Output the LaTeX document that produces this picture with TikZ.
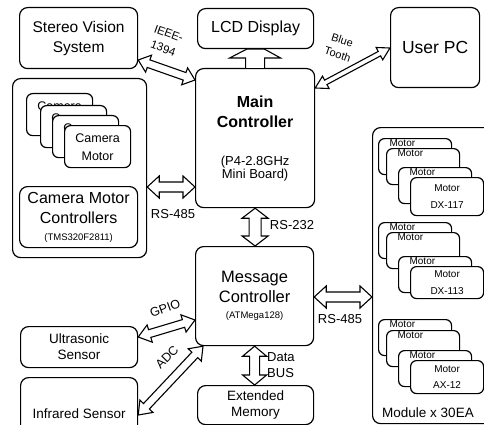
\documentclass[tikz,border=0pt]{standalone}
\usepackage{fontspec}
\setmainfont{Liberation Sans}
\usetikzlibrary{calc}
\newcommand\fsz[2]{\fontsize{#1}{#2}\selectfont}
% hollow double arrow: #1 start, #2 end, #3 shaft half width, #4 head half width, #5 head length
\newcommand\dblarrow[5]{%
  \draw[arr] ($(#1)!#5!(#2)!#4!90:(#2)$) -- (#1) -- ($(#1)!#5!(#2)!#4!-90:(#2)$)
    -- ($(#1)!#5!(#2)!#3!-90:(#2)$) -- ($(#2)!#5!(#1)!#3!90:(#1)$)
    -- ($(#2)!#5!(#1)!#4!90:(#1)$) -- (#2) -- ($(#2)!#5!(#1)!#4!-90:(#1)$)
    -- ($(#2)!#5!(#1)!#3!-90:(#1)$) -- ($(#1)!#5!(#2)!#3!90:(#2)$) -- cycle;}
\begin{document}
\begin{tikzpicture}[x=1pt,y=-1pt,
  box/.style={draw, line width=1.2pt, rounded corners=8pt, fill=white, inner sep=0pt, align=center, anchor=north west},
  card/.style={box, rounded corners=6pt},
  camcard/.style={card, minimum width=66pt, text height=34.5pt, text depth=7.5pt, font=\fsz{12.5}{18}},
  backcard/.style={card, minimum width=73pt, minimum height=36pt, text width=51pt, inner xsep=11pt, align=left, text height=8pt, text depth=28pt, font=\fsz{10}{12}},
  frontcard/.style={card, minimum width=73pt, font=\fsz{10}{17}},
  arr/.style={draw, line width=1.1pt, fill=white, line join=miter},
  lbl/.style={inner sep=0pt, align=center}]
\useasboundingbox (0,0) rectangle (484,425);
\clip (0,0) rectangle (484,425);
\fill[white] (0,0) rectangle (484,425);

% top row
\node[box, minimum width=118pt, minimum height=61pt, font=\fsz{15.5}{20}] (stereo) at (19,7) {Stereo Vision\\System};
\node[box, minimum width=116pt, minimum height=40pt, font=\fsz{16}{18}] (lcd) at (197,8) {LCD Display};
\node[box, minimum width=89pt, minimum height=80pt, font=\fsz{17.5}{20}] (upc) at (390,7) {User PC};

% main controller
\node[box, minimum width=119pt, minimum height=139pt, font=\bfseries\fsz{16}{20}] (main) at (195,68)
  {Main\\Controller\\[18pt]\mdseries\fsz{13}{13}(P4-2.8GHz\\[-7pt]\mdseries\fsz{13}{13}Mini Board)};

% camera group
\node[box, minimum width=134pt, minimum height=179pt] (cam) at (12,78) {};
\foreach \i/\x/\y in {1/26/93, 2/40/105, 3/52/115, 4/64/125}
  \node[camcard] (cm\i) at (\x,\y) {Camera\\Motor};
\node[box, minimum width=118pt, minimum height=61pt, font=\fsz{16}{20}] (cmc) at (19,186)
  {Camera Motor\\Controllers\\[-3pt]\fsz{9.5}{11}(TMS320F2811)};

% message controller and peripherals
\node[box, minimum width=118pt, minimum height=99pt, font=\fsz{16.5}{20}] (msg) at (195,246)
  {Message\\Controller\\[-4pt]\fsz{9.5}{11}(ATMega128)};
\node[box, minimum width=116pt, minimum height=39pt, font=\fsz{13.5}{16}] (ext) at (197,385) {Extended\\Memory};
\node[box, minimum width=117pt, minimum height=41pt, font=\fsz{13.5}{16}] (us) at (20,326) {Ultrasonic\\Sensor};
\node[box, minimum width=117pt, minimum height=72pt, font=\fsz{13.5}{16}] (ir) at (20,377) {Infrared Sensor};

% motor module
\node[box, minimum width=120pt, minimum height=296pt] (mod) at (372,127) {};
% group 1
\node[backcard] (a1) at (378,138) {Motor};
\node[backcard] (a2) at (386,148) {Motor};
\node[backcard] (a3) at (398,167) {Motor};
\node[frontcard, minimum height=38pt] (a4) at (410,177) {Motor\\DX-117};
% group 2
\node[backcard] (b1) at (378,222) {Motor};
\node[backcard] (b2) at (386,232) {Motor};
\node[backcard] (b3) at (398,256) {Motor};
\node[frontcard, minimum height=32pt] (b4) at (410,266) {Motor\\DX-113};
% group 3
\node[backcard] (c1) at (378,319) {Motor};
\node[backcard] (c2) at (386,330) {Motor};
\node[backcard] (c3) at (398,350) {Motor};
\node[frontcard, minimum height=33pt, font=\fsz{10}{16}] (c4) at (410,360) {Motor\\AX-12};
\node[lbl, font=\fsz{13.5}{16}] (modlbl) at (428,413) {Module x 30EA};

% connector end points
\coordinate (ie1) at (stereo.east |- 0,60);
\coordinate (ie2) at (main.west |- 0,80);
\coordinate (bt1) at (main.east |- 0,88);
\coordinate (bt2) at (upc.west |- 0,48);
\coordinate (rl1) at (cam.east |- 0,187);
\coordinate (rl2) at (main.west |- 0,187);
\coordinate (r2a) at (main.south);
\coordinate (r2b) at (main.south |- msg.north);
\coordinate (rr1) at (msg.east |- 0,297);
\coordinate (rr2) at (mod.west |- 0,297);
\coordinate (db1) at (msg.south);
\coordinate (db2) at (msg.south |- ext.north);
\coordinate (gp1) at (us.east |- 0,337);
\coordinate (gp2) at (msg.west |- 0,320);
\coordinate (ad1) at (ir.east |- 0,415);
\coordinate (ad2) at ($(msg.south west)+(8,0)$);

% connectors
\dblarrow{ie1}{ie2}{4pt}{9pt}{11pt}
\dblarrow{bt1}{bt2}{2.5pt}{7pt}{12pt}
\dblarrow{rl1}{rl2}{5pt}{11pt}{12pt}
\dblarrow{r2a}{r2b}{6pt}{13pt}{10pt}
\dblarrow{rr1}{rr2}{5pt}{11pt}{12pt}
\dblarrow{db1}{db2}{5pt}{12pt}{10pt}
\dblarrow{gp1}{gp2}{4pt}{9pt}{12pt}
\dblarrow{ad1}{ad2}{4pt}{9pt}{12pt}
\draw[arr] ($(main.north)+(-9.5,0)$) -- ++(0,-10) -- ++(-16,0) -- ($(lcd.south)+(-9,0)$)
  -- ($(lcd.south)+(9,0)$) -- ($(main.north)+(25.5,-10)$) -- ++(-16,0) -- ($(main.north)+(9.5,0)$);

% connector labels
\node[lbl, rotate=-20, font=\fsz{11.5}{16}] (ieeelbl) at (166,41) {IEEE-\\1394};
\node[lbl, rotate=-18, font=\fsz{11}{15}] (btlbl) at (340,47) {Blue\\Tooth};
\node[lbl, font=\fsz{13}{15}] (rs485l) at (173,214) {RS-485};
\node[lbl, font=\fsz{13}{15}] (rs232) at (292,225) {RS-232};
\node[lbl, font=\fsz{13}{15}] (rs485r) at (340,319) {RS-485};
\node[lbl, anchor=west, align=left, font=\fsz{13}{16}] (dbus) at (267,365) {Data\\BUS};
\node[lbl, rotate=20, font=\fsz{12.5}{15}] (gpio) at (165,308) {GPIO};
\node[lbl, rotate=45, font=\fsz{12.5}{15}] (adc) at (167,357) {ADC};
\end{tikzpicture}
\end{document}
